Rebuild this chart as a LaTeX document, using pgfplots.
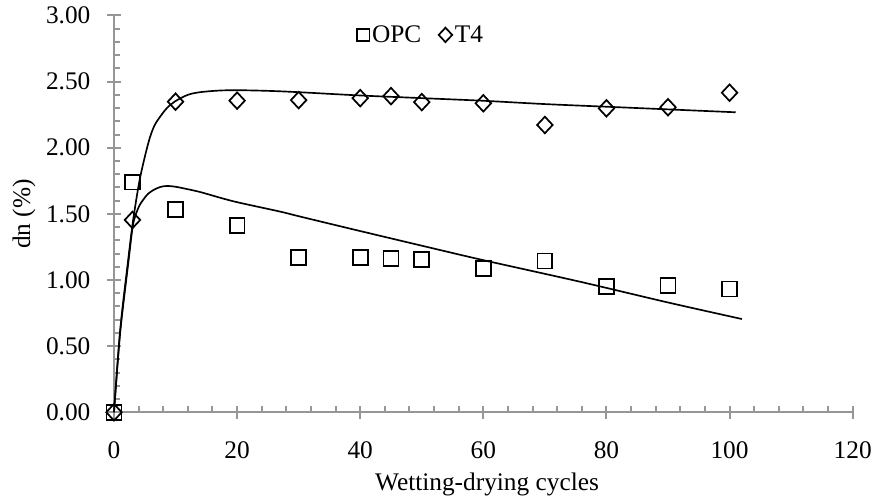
\documentclass[border=0pt]{standalone}
\usepackage{fontspec}
\setmainfont{Liberation Serif}
\usepackage{pgfplots}
\pgfplotsset{compat=1.18}
\definecolor{axgray}{RGB}{150,150,150}
\pgfplotsset{
    legsq/.style={legend image code/.code={\draw[##1, mark size=4.7pt] plot coordinates {(0pt,0pt)};}},
    legdm/.style={legend image code/.code={\draw[##1, mark size=5.4pt] plot coordinates {(0pt,0pt)};}},
}

\begin{document}
\begin{tikzpicture}
\begin{axis}[
    name=ax,
    scale only axis,
    width=554pt, height=297.6pt,
    xmin=0, xmax=120, ymin=0, ymax=3,
    axis lines=left,
    x axis line style={-, draw=axgray, line width=1.5pt},
    y axis line style={-, draw=axgray, line width=1.5pt},
    tick align=inside,
    major tick length=10pt,
    minor tick length=4.5pt,
    minor tick style={draw=axgray, line width=1.5pt},
    major x tick style={draw=axgray, line width=1.5pt, yshift=-5pt},
    major y tick style={draw=axgray, line width=1.5pt, xshift=-5pt},
    xtick={0,20,...,120},
    ytick={0,0.5,...,3},
    minor x tick num=4,
    minor y tick num=4,
    tick label style={font=\fontsize{19}{22}\selectfont},
    /pgf/number format/assume math mode=true,
    xticklabel style={anchor=north, inner sep=0pt, yshift=-22pt},
    yticklabel style={anchor=east, inner sep=0pt, xshift=-17.5pt,
        /pgf/number format/.cd, fixed, fixed zerofill, precision=2},
    xlabel={Wetting-drying cycles},
    ylabel={dn (\%)},
    every axis x label/.style={at={(axis description cs:0.505,-0.183)}, anchor=center,
        font=\fontsize{19}{22}\selectfont},
    every axis y label/.style={at={(axis description cs:-0.1218,0.5)}, anchor=center,
        rotate=90, font=\fontsize{19}{22}\selectfont},
    legend style={draw=none, fill=none, at={(axis description cs:0.416,0.951)},
        anchor=center, font=\fontsize{19}{22}\selectfont, inner sep=0pt,
        /tikz/every even column/.append style={column sep=11pt}},
    legend columns=2,
    clip=false,
]
% measured points
\addplot[only marks, mark=square, mark size=5.6pt, line width=1.3pt, black, legsq]
coordinates {
    (0,0) (3,1.74) (10,1.535) (20,1.41) (30,1.172) (40,1.172) (45,1.164)
    (50,1.157) (60,1.089) (70,1.144) (80,0.95) (90,0.96) (100,0.932)
};
\addplot[only marks, mark=diamond, mark size=6.2pt, line width=1.3pt, black,
    mark options={xscale=1.25}, legdm]
coordinates {
    (0,0) (3,1.454) (10,2.348) (20,2.356) (30,2.36) (40,2.375) (45,2.39)
    (50,2.345) (60,2.336) (70,2.172) (80,2.298) (90,2.306) (100,2.416)
};
\legend{OPC, T4}
% trend curves
\addplot[black, line width=1.25pt, smooth, forget plot] coordinates {
    (0,0) (1,0.62) (2.3,1.15) (3.1,1.45) (4.1,1.74) (5,1.93) (5.85,2.08)
    (6.6,2.17) (7.5,2.235) (8.6,2.3) (9.9,2.35) (12,2.40) (14,2.42)
    (17,2.432) (20,2.435) (25,2.43) (30,2.42) (40,2.395) (50,2.375)
    (60,2.355) (70,2.33) (80,2.31) (90,2.29) (101,2.268)
};
\addplot[black, line width=1.25pt, smooth, forget plot] coordinates {
    (0,0) (1,0.6) (2.3,1.12) (3.1,1.42) (4,1.55) (4.8,1.61) (5.5,1.65)
    (6.4,1.68) (7.5,1.703) (8.6,1.711) (10,1.705) (11.3,1.693) (14,1.665)
    (19.4,1.595) (27,1.517) (30.2,1.48) (40,1.37) (51.3,1.245) (60,1.15)
    (75.7,0.987) (90,0.83) (102,0.705)
};
\end{axis}
\pgfresetboundingbox
\path ([shift={(-85.5pt,-67.3pt)}]ax.south west) rectangle ([shift={(572.25pt,309.2pt)}]ax.south west);
\end{tikzpicture}
\end{document}
